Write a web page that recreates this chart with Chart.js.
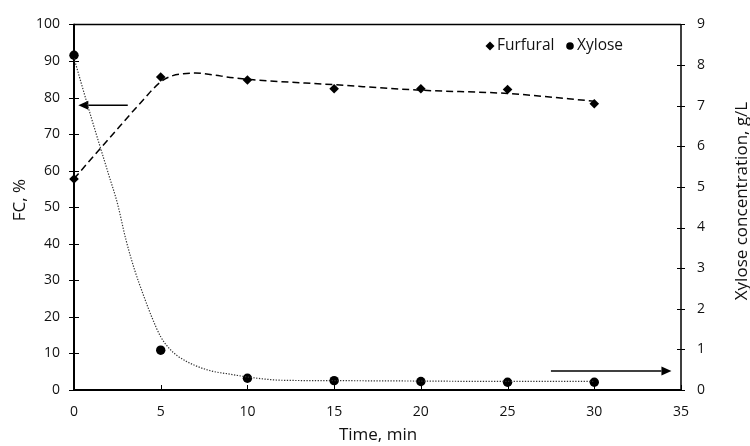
<!DOCTYPE html>
<html>
<head>
<meta charset="utf-8">
<script src="https://cdn.jsdelivr.net/npm/chart.js@4.4.1/dist/chart.umd.min.js"></script>
<style>
  html, body { margin: 0; padding: 0; background: #fff; }
  #wrap { width: 750px; height: 446px; position: relative; }
</style>
</head>
<body>
<div id="wrap"><canvas id="c"></canvas></div>
<script>
// ---- data ----
const timeMin = [0, 5, 10, 15, 20, 25, 30];
const furfuralFC = [57.7, 85.6, 84.8, 82.4, 82.4, 82.2, 78.3];
const xyloseGL = [8.24, 0.98, 0.29, 0.23, 0.21, 0.19, 0.19];

// trend curves as drawn in the picture
const furfuralTrendT  = [0, 2.1, 4, 5, 5.7, 6.3, 7, 8, 9, 10, 15, 20, 25, 30];
const furfuralTrendFC = [57.8, 69.2, 79.4, 84.3, 86.0, 86.5, 86.7, 86.2, 85.5, 85.0, 83.5, 82.0, 81.1, 79.0];
const xyloseTrendT  = [0, 1, 2, 2.5, 3, 3.5, 4, 4.5, 5, 5.5, 6, 7, 8, 9, 10, 12, 15, 20, 25, 30];
const xyloseTrendGL = [8.17, 6.70, 5.30, 4.60, 3.69, 2.95, 2.34, 1.78, 1.31, 1.02, 0.83, 0.60, 0.46, 0.39, 0.32, 0.24, 0.23, 0.22, 0.21, 0.21];

// axes
const xTicks = [0, 5, 10, 15, 20, 25, 30, 35];
const fcTicks = [0, 10, 20, 30, 40, 50, 60, 70, 80, 90, 100];
const xyTicks = [0, 1, 2, 3, 4, 5, 6, 7, 8, 9];

// annotation arrows (data coordinates)
const leftArrow  = { axis: 'y',  y: 77.9, from: 3.1,  to: 0.25 };
const rightArrow = { axis: 'y2', y: 0.47, from: 27.5, to: 34.45 };

const FONT = '"Open Sans", "Noto Sans", sans-serif';
const TXT = '#111';

function pts(xs, ys) { return xs.map((x, i) => ({ x: x, y: ys[i] })); }

const framePlugin = {
  id: 'frame',
  beforeDatasetsDraw(chart) {
    const { ctx, chartArea: a, scales } = chart;
    const sx = scales.x, sy = scales.y, sy2 = scales.y2;
    ctx.save();
    ctx.strokeStyle = '#000';
    ctx.lineWidth = 1.5;
    ctx.beginPath();
    ctx.moveTo(a.left, a.top); ctx.lineTo(a.right, a.top);
    ctx.moveTo(a.right, a.top); ctx.lineTo(a.right, a.bottom);
    ctx.stroke();
    ctx.lineWidth = 2;
    ctx.beginPath();
    ctx.moveTo(a.left, a.top - 0.75); ctx.lineTo(a.left, a.bottom + 1);
    ctx.moveTo(a.left - 1, a.bottom); ctx.lineTo(a.right + 0.75, a.bottom);
    ctx.stroke();
    ctx.lineWidth = 1;
    ctx.beginPath();
    fcTicks.forEach(v => {
      const y = Math.round(sy.getPixelForValue(v)) + 0.5;
      ctx.moveTo(a.left - 5, y); ctx.lineTo(a.left + 5, y);
    });
    xyTicks.forEach(v => {
      const y = Math.round(sy2.getPixelForValue(v)) + 0.5;
      ctx.moveTo(a.right - 4, y); ctx.lineTo(a.right + 4, y);
    });
    xTicks.forEach(v => {
      const x = Math.round(sx.getPixelForValue(v)) + 0.5;
      ctx.moveTo(x, a.bottom); ctx.lineTo(x, a.bottom - 5);
    });
    ctx.stroke();
    [leftArrow, rightArrow].forEach(ar => {
      const ys = scales[ar.axis];
      const y = ys.getPixelForValue(ar.y);
      const x0 = sx.getPixelForValue(ar.from);
      const x1 = sx.getPixelForValue(ar.to);
      const dir = x1 > x0 ? 1 : -1;
      const head = 10, half = 4.5;
      ctx.lineWidth = 1.5;
      ctx.beginPath();
      ctx.moveTo(x0, y); ctx.lineTo(x1 - dir * head, y);
      ctx.stroke();
      ctx.fillStyle = '#000';
      ctx.beginPath();
      ctx.moveTo(x1, y);
      ctx.lineTo(x1 - dir * head, y - half);
      ctx.lineTo(x1 - dir * head, y + half);
      ctx.closePath();
      ctx.fill();
    });
    ctx.restore();
  },
  afterDraw(chart) {
    const { ctx, chartArea: a } = chart;
    ctx.save();
    ctx.fillStyle = TXT;
    ctx.font = '17px ' + FONT;
    ctx.textAlign = 'center';
    ctx.textBaseline = 'middle';
    ctx.fillText('Time, min', (a.left + a.right) / 2 + 0.5, 435);
    ctx.save();
    ctx.translate(20, 200);
    ctx.rotate(-Math.PI / 2);
    ctx.fillText('FC, %', 0, 0);
    ctx.restore();
    ctx.save();
    ctx.translate(742, 201);
    ctx.rotate(-Math.PI / 2);
    ctx.fillText('Xylose concentration, g/L', 0, 0);
    ctx.restore();
    ctx.font = '15.5px ' + FONT;
    ctx.textAlign = 'left';
    const ly = 46;
    ctx.fillStyle = '#000';
    ctx.beginPath();
    ctx.moveTo(490, ly - 4.5); ctx.lineTo(494.5, ly); ctx.lineTo(490, ly + 4.5); ctx.lineTo(485.5, ly);
    ctx.closePath(); ctx.fill();
    ctx.beginPath(); ctx.arc(570, ly, 3.8, 0, Math.PI * 2); ctx.fill();
    ctx.fillStyle = TXT;
    ctx.fillText('Furfural', 497, ly);
    ctx.fillText('Xylose', 577, ly);
    ctx.restore();
  }
};

const tickFont = { family: FONT, size: 14 };

new Chart(document.getElementById('c'), {
  type: 'scatter',
  data: {
    datasets: [
      {
        label: 'Furfural trend',
        data: pts(furfuralTrendT, furfuralTrendFC),
        yAxisID: 'y',
        showLine: true,
        cubicInterpolationMode: 'monotone',
        borderColor: '#000',
        borderWidth: 1.5,
        borderDash: [7, 4],
        pointRadius: 0,
        fill: false
      },
      {
        label: 'Xylose trend',
        data: pts(xyloseTrendT, xyloseTrendGL),
        yAxisID: 'y2',
        showLine: true,
        cubicInterpolationMode: 'monotone',
        borderColor: '#333',
        borderWidth: 1.2,
        borderDash: [1.3, 1.5],
        pointRadius: 0,
        fill: false
      },
      {
        label: 'Furfural',
        data: pts(timeMin, furfuralFC),
        yAxisID: 'y',
        showLine: false,
        pointStyle: 'rectRot',
        pointRadius: 4.8,
        pointBackgroundColor: '#000',
        pointBorderColor: '#000',
        pointBorderWidth: 0,
        clip: false
      },
      {
        label: 'Xylose',
        data: pts(timeMin, xyloseGL),
        yAxisID: 'y2',
        showLine: false,
        pointStyle: 'circle',
        pointRadius: 4.7,
        pointBackgroundColor: '#000',
        pointBorderColor: '#000',
        pointBorderWidth: 0,
        clip: false
      }
    ]
  },
  options: {
    responsive: true,
    maintainAspectRatio: false,
    animation: false,
    layout: { padding: { top: 19, left: 0, right: 0, bottom: 0 } },
    plugins: { legend: { display: false }, tooltip: { enabled: false } },
    scales: {
      x: {
        type: 'linear', position: 'bottom', min: 0, max: 35,
        afterBuildTicks: s => { s.ticks = xTicks.map(v => ({ value: v })); },
        ticks: { font: tickFont, color: TXT, padding: 13.5, maxRotation: 0 },
        grid: { display: false, drawTicks: false },
        border: { display: false },
        afterFit: s => { s.height = 56; }
      },
      y: {
        type: 'linear', position: 'left', min: 0, max: 100,
        afterBuildTicks: s => { s.ticks = fcTicks.map(v => ({ value: v })); },
        ticks: { font: tickFont, color: TXT, padding: 14 },
        grid: { display: false, drawTicks: false },
        border: { display: false },
        afterFit: s => { s.width = 74; }
      },
      y2: {
        type: 'linear', position: 'right', min: 0, max: 9,
        afterBuildTicks: s => { s.ticks = xyTicks.map(v => ({ value: v })); },
        ticks: { font: tickFont, color: TXT, padding: 16 },
        grid: { display: false, drawTicks: false },
        border: { display: false },
        afterFit: s => { s.width = 69; }
      }
    }
  },
  plugins: [framePlugin]
});
</script>
</body>
</html>
